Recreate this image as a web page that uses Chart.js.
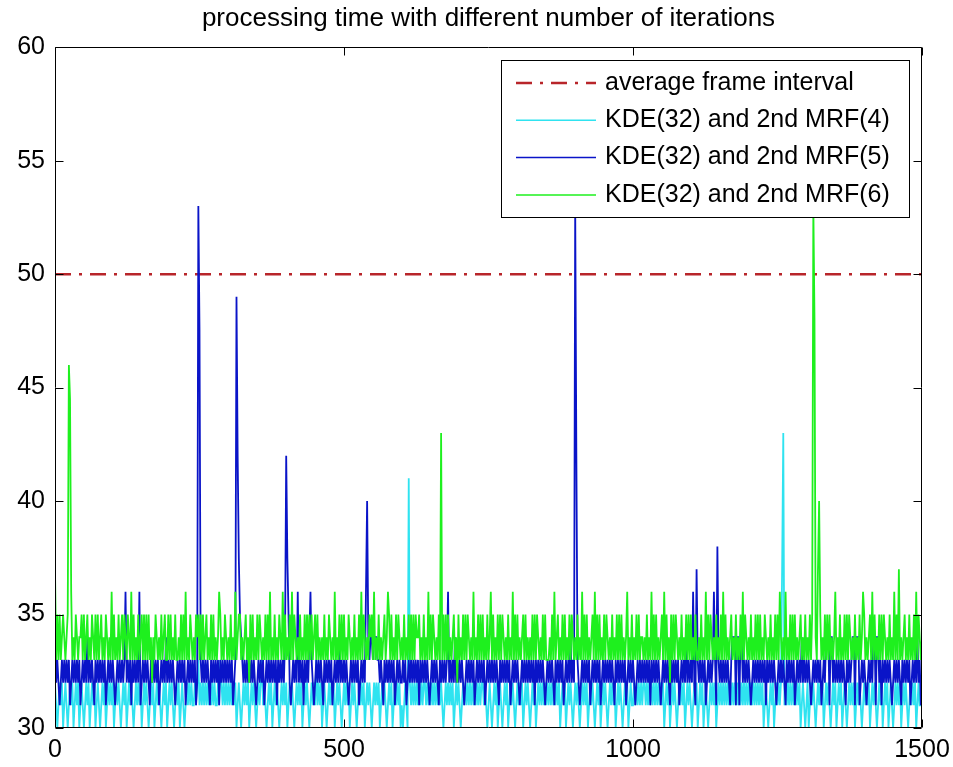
<!DOCTYPE html>
<html>
<head>
<meta charset="utf-8">
<script src="https://cdn.jsdelivr.net/npm/chart.js@4.4.1/dist/chart.umd.min.js"></script>
<style>
  html, body { margin: 0; padding: 0; background: #fff; }
  #wrap { width: 953px; height: 767px; }
</style>
</head>
<body>
<div id="wrap"><canvas id="chart" width="953" height="767"></canvas></div>
<script>
const chartTitle = 'processing time with different number of iterations'
const seriesNames = ['average frame interval', 'KDE(32) and 2nd MRF(4)', 'KDE(32) and 2nd MRF(5)', 'KDE(32) and 2nd MRF(6)']
const xTicks = [0, 500, 1000, 1500]
const yTicks = [30, 35, 40, 45, 50, 55, 60]
const frameInterval = 50

// one digit per 2 iterations, digit = time - 30 (ms); each chunk = 100 iterations
const sampleStep = 2
const mrf4Digits = [
  '2101212012 1012120121 2012101212 0121201210 1212012121',
  '2012121012 1201212101 2121201212 1012120121 2101212012',
  '1210121201 2101212121 1212312121 2121212121 1213212121',
  '2121212012 1012121201 2121012123 1210121201 2121012121',
  '2012121012 1212012121 0121213121 2012101212 1201212101',
  '2121201212 1012121201 2121012121 2012121012 1201212120',
  '1012101212 1212121212 2121212121 2121210121 2121201212',
  '1012121212 1212121212 2121012101 2120121012 1201212101',
  '2121201212 1012120121 2121212121 2121212012 1201212101',
  '2121012121 2012121012 1201212101 2121201212 1012120121',
  '1212121212 2121212121 2121212012 1201212101 2121201212',
  '1012120121 2012101212 1201212121 2121212121 2121212121',
  '2121212121 2120121012 1201212121 2121212121 2121201210',
  '1201212101 2121201212 1012120121 2012101212 1201212101',
  '2121201212 1012120121 2012101212 1201212101 2121201211',
  '2'
]
const mrf5Digits = [
  '5232123232 3231232323 2312323242 3232132323 2323123232',
  '3212323232 3623231323 2326123232 3213232323 1232324232',
  '3232123232 3231232323 2312323232 3232132323 2313232323',
  '2323123232 5432323232 3232123232 3123232323 2313232324',
  '3252123232 6232313232 4632123232 3213232323 1232324232',
  '3232123232 3231232326 5434434443 3232132323 2323123232',
  '2323123232 3232313232 3232123232 3213232323 6232324232',
  '3232123232 3231232323 2312323232 3232132323 2323123232',
  '3212323232 3232313232 3232123232 3213232323 1232324232',
  '3232123232 3231232323 2312323232 3232132323 2323123232',
  '3212323232 3232313232 3232123232 3213232323 1232324232',
  '3262123232 3231232323 6312323232 3232134441 4414423232',
  '3212323232 3232313232 3232123232 3213232323 1232324232',
  '3232123232 3231232444 1442323232 3232132323 4414441232',
  '3212323244 1442313232 3232123232 3213232323 1232324231',
  '2'
]
const mrf6Digits = [
  '7353534543 4543634354 3445353453 4354353534 5343543436',
  '3534353453 5435436353 4353453535 3534243543 4353453353',
  '5343533435 3536343543 4354535353 4534353534 3465343543',
  '4353436345 5343453425 3534353543 4353536343 5343543635',
  '3435363543 4353435353 5353453534 3435343543 4363435353',
  '5343543435 3435363543 4354536343 5343453465 3534353543',
  '4353435353 5354453435 3436353543 4353435353 5343453425',
  '3435353543 4363435353 5343534635 3435353543 4353436353',
  '5343453534 3435353543 4353533343 5363453435 3534353543',
  '4353436353 5343453635 3534353543 4353435353 5343463435',
  '3435353443 4353436353 5343453635 3425353543 4353435353',
  '5343533435 3436353543 4353435363 5343453435 3435363543',
  '4353435353 5343543435 3435353643 4363435353 5343453435',
  '3435353543 4353435353 5343463435 3435353543 4353435346',
  '5343453635 3435353543 4353436353 7343453435 3435363543',
  '4'
]
// [iteration, ms] peaks that do not fit a single digit
const mrf4Spikes = [[612, 41], [1258, 37], [1260, 43]]
const mrf5Spikes = [[248, 53], [250, 47.5], [314, 49], [316, 42], [318, 37.5], [400, 42], [402, 37.5],
  [540, 40], [900, 53], [902, 42], [1110, 37], [1146, 38]]
const mrf6Spikes = [[24, 46], [26, 44.5], [668, 43], [1312, 53], [1314, 48], [1320, 37], [1322, 40]]

function decode(chunks, spikes) {
  const vals = chunks.join('').replace(/\s/g, '').split('').map(d => 30 + Number(d))
  spikes.forEach(([it, v]) => { vals[it / sampleStep] = v })
  return vals.map((v, i) => ({ x: i * sampleStep, y: v }))
}

const FONT = "'Liberation Sans', Arial, sans-serif"

// MATLAB style box with inward ticks on all four sides
const axesBox = {
  id: 'axesBox',
  afterDraw(chart) {
    const { ctx, chartArea: a, scales: { x, y } } = chart
    const L = Math.round(a.left) + 0.5, R = Math.round(a.right) - 0.5
    const T = Math.round(a.top) + 0.5, B = Math.round(a.bottom) - 0.5
    ctx.save()
    ctx.strokeStyle = '#000'
    ctx.lineWidth = 1
    ctx.beginPath()
    ctx.rect(L, T, R - L, B - T)
    xTicks.forEach(v => {
      const px = Math.round(x.getPixelForValue(v)) + 0.5
      ctx.moveTo(px, B); ctx.lineTo(px, B - 8)
      ctx.moveTo(px, T); ctx.lineTo(px, T + 8)
    })
    yTicks.forEach(v => {
      const py = Math.round(y.getPixelForValue(v)) + 0.5
      ctx.moveTo(L, py); ctx.lineTo(L + 8, py)
      ctx.moveTo(R, py); ctx.lineTo(R - 8, py)
    })
    ctx.stroke()
    ctx.restore()
  }
}

const legendBox = {
  id: 'legendBox',
  afterDatasetsDraw(chart) {
    const { ctx, chartArea: a } = chart
    const w = 408, h = 157
    const left = Math.round(a.right) - 13 - w, top = Math.round(a.top) + 13
    ctx.save()
    ctx.fillStyle = '#fff'
    ctx.fillRect(left, top, w, h)
    ctx.strokeStyle = '#000'
    ctx.lineWidth = 1
    ctx.strokeRect(left + 0.5, top + 0.5, w, h)
    ctx.font = '25px ' + FONT
    ctx.textBaseline = 'middle'
    chart.data.datasets.forEach((ds, i) => {
      const yy = top + 23 + i * 37.3
      ctx.beginPath()
      ctx.setLineDash(ds.borderDash || [])
      ctx.strokeStyle = ds.borderColor
      ctx.lineWidth = ds.borderDash ? ds.borderWidth : 1.5
      ctx.moveTo(left + 15, yy)
      ctx.lineTo(left + 95, yy)
      ctx.stroke()
      ctx.setLineDash([])
      ctx.fillStyle = '#000'
      ctx.fillText(ds.label, left + 104, yy)
    })
    ctx.restore()
  }
}

const series = (label, color, data, order) => ({
  label, data, order,
  borderColor: color,
  borderWidth: 1.8,
  pointRadius: 0,
  tension: 0,
  fill: false
})

new Chart(document.getElementById('chart'), {
  type: 'line',
  data: {
    datasets: [
      {
        label: seriesNames[0],
        data: [{ x: xTicks[0], y: frameInterval }, { x: xTicks[xTicks.length - 1], y: frameInterval }],
        borderColor: '#B8252A',
        borderWidth: 2.5,
        borderDash: [16, 8, 3, 8],
        pointRadius: 0,
        fill: false,
        order: 4
      },
      series(seriesNames[1], '#2FE3F0', decode(mrf4Digits, mrf4Spikes), 3),
      series(seriesNames[2], '#0A14C8', decode(mrf5Digits, mrf5Spikes), 2),
      series(seriesNames[3], '#1EF01E', decode(mrf6Digits, mrf6Spikes), 1)
    ]
  },
  options: {
    responsive: false,
    devicePixelRatio: 1,
    animation: false,
    events: [],
    layout: { padding: { left: 0, right: 31, top: 0, bottom: 0 } },
    plugins: {
      legend: { display: false },
      tooltip: { enabled: false },
      title: {
        display: true,
        fullSize: false,
        text: chartTitle,
        color: '#000',
        font: { family: FONT, size: 26, weight: 'normal' },
        padding: { top: 3, bottom: 13 }
      }
    },
    scales: {
      x: {
        type: 'linear',
        min: xTicks[0],
        max: xTicks[xTicks.length - 1],
        grid: { display: false, drawTicks: false },
        border: { display: false },
        ticks: {
          stepSize: 500, color: '#000', padding: 7, maxRotation: 0,
          font: { family: FONT, size: 25 },
          callback: v => String(v)
        },
        afterFit: s => { s.height = 39; s.paddingLeft = 0; s.paddingRight = 0 }
      },
      y: {
        min: yTicks[0],
        max: yTicks[yTicks.length - 1],
        grid: { display: false, drawTicks: false },
        border: { display: false },
        ticks: { stepSize: 5, color: '#000', padding: 10, font: { family: FONT, size: 25 } },
        afterFit: s => { s.width = 55; s.paddingTop = 0; s.paddingBottom = 0 }
      }
    }
  },
  plugins: [legendBox, axesBox]
})
</script>
</body>
</html>
